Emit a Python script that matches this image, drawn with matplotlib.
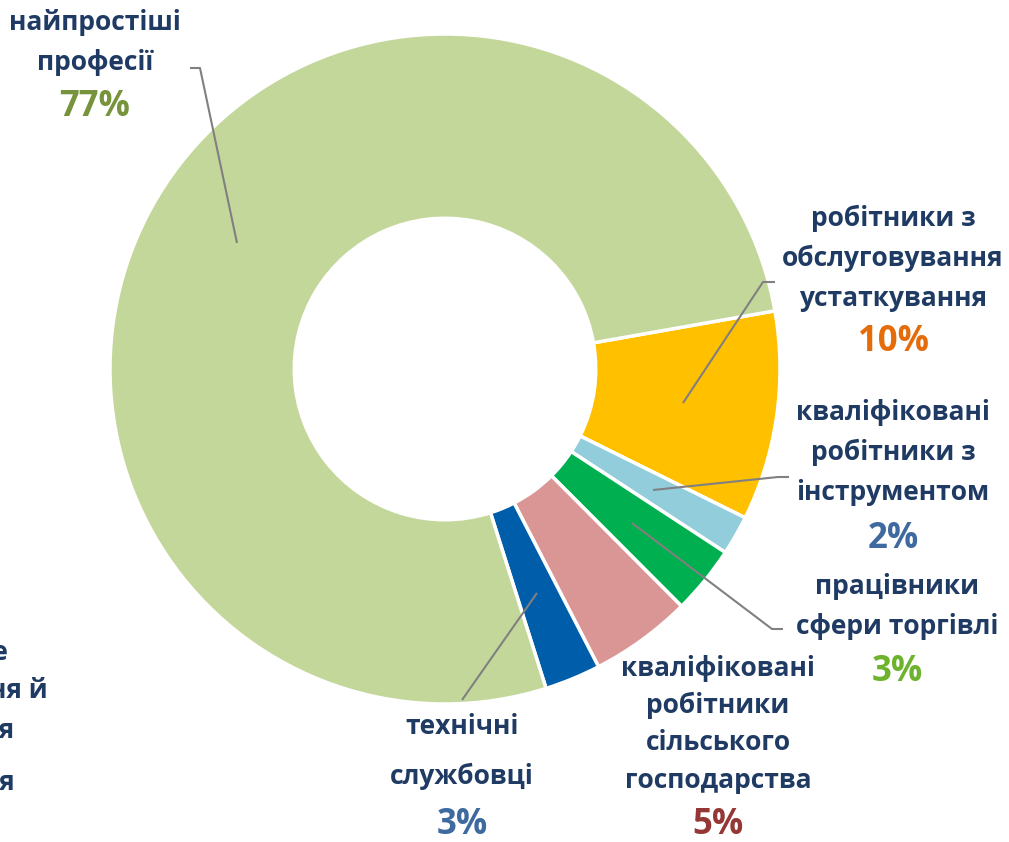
import matplotlib.pyplot as plt

plt.rcParams['font.family'] = ['Open Sans', 'DejaVu Sans']

# slices, clockwise from the boundary on the right side
categories = ['робітники з обслуговування устаткування',
              'кваліфіковані робітники з інструментом',
              'працівники сфери торгівлі',
              'кваліфіковані робітники сільського господарства',
              'технічні службовці',
              'найпростіші професії']
values = [10.1, 1.9, 3.3, 4.9, 2.7, 77.1]
colors = ['#FFC000', '#92CDDC', '#00B050', '#DA9694', '#005DAA', '#C4D79B']

label_lines = [['робітники з', 'обслуговування', 'устаткування'],
               ['кваліфіковані', 'робітники з', 'інструментом'],
               ['працівники', 'сфери торгівлі'],
               ['кваліфіковані', 'робітники', 'сільського', 'господарства'],
               ['технічні', 'службовці'],
               ['найпростіші', 'професії']]
pct_colors = ['#E46C0A', '#3E6AA0', '#6DB32E', '#953735', '#3E6AA0', '#77933C']

W, H = 1009, 842
navy = '#1F3B63'
grey = '#808080'

def py(y):
    # pixel row (from top) to data y
    return H - y

fig = plt.figure(figsize=(W / 100, H / 100), dpi=100)
ax = fig.add_axes([0, 0, 1, 1])

R = 335
ax.pie(values, colors=colors, startangle=10, counterclock=False,
       radius=R, center=(445, py(369)),
       wedgeprops=dict(width=R * 0.55, edgecolor='white', linewidth=2.5))

ax.set_xlim(0, W)
ax.set_ylim(0, H)
ax.set_aspect('equal')
ax.axis('off')

# label blocks: x centre, y of first line, line step, y of percentage
layout = [(893, 218, 40, 342),
          (893, 413, 39.5, 539),
          (897, 587, 40, 672),
          (718, 668, 37.5, 825),
          (462, 726, 50, 825),
          (95, 22, 41, 107)]

for lines, (x, y0, step, yp), v, pc in zip(label_lines, layout, values, pct_colors):
    for i, line in enumerate(lines):
        ax.text(x, py(y0 + i * step), line, ha='center', va='center',
                fontsize=19, fontweight='bold', color=navy)
    ax.text(x, py(yp), f'{round(v)}%', ha='center', va='center',
            fontsize=25, fontweight='bold', color=pc)

# leader lines
leaders = [[(683, 403), (763, 282), (775, 282)],
           [(653, 490), (778, 477), (789, 477)],
           [(632, 523), (772, 629), (783, 629)],
           [(537, 593), (462, 700)],
           [(237, 243), (200, 68), (190, 68)]]
for pts in leaders:
    ax.plot([p[0] for p in pts], [py(p[1]) for p in pts], color=grey, lw=1.5,
            solid_capstyle='butt')

# label of a neighbouring chart, cut off at the left edge (as in the source)
cut_lines = ['лісове', 'господарювання й', 'риборозведення', 'управління']
cut_pos = [(8, 652), (48, 690), (14, 730), (15, 782)]
for line, (x, y) in zip(cut_lines, cut_pos):
    ax.text(x, py(y), line, ha='right', va='center',
            fontsize=19, fontweight='bold', color=navy)

fig.savefig('out.png', dpi=100)
